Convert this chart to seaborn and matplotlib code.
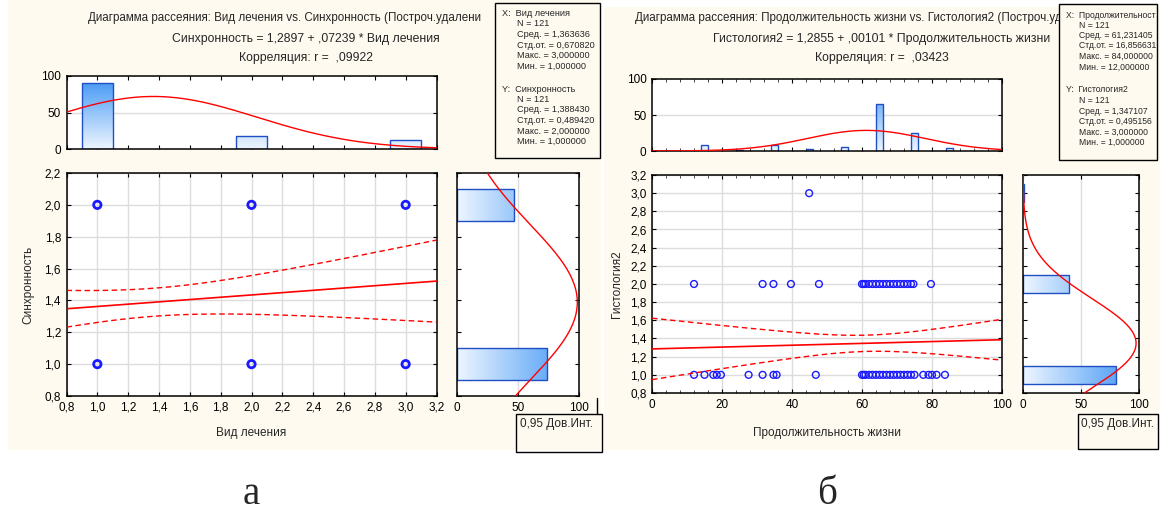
import numpy as np
import pandas as pd
import matplotlib
matplotlib.use("Agg")
import matplotlib.pyplot as plt
import seaborn as sns
from matplotlib.patches import Rectangle
from matplotlib.lines import Line2D
from matplotlib.colors import LinearSegmentedColormap
from matplotlib.ticker import FuncFormatter, MultipleLocator, FixedLocator

sns.set_theme(style="white")
plt.rcParams["font.family"] = ["Liberation Sans", "DejaVu Sans"]

# ---------------- data: panel а ----------------
a_x_cats = [1, 2, 3]            # Вид лечения
a_x_counts = [90, 18, 13]
a_y_cats = [1, 2]               # Синхронность
a_y_counts = [74, 47]
a_pts_x = [1, 1, 2, 2, 3, 3]
a_pts_y = [1, 2, 1, 2, 1, 2]
a_n = 121
a_xmean, a_xsd = 1.363636, 0.670820
a_ymean, a_ysd = 1.388430, 0.489420
a_b0, a_b1, a_r = 1.2897, 0.07239, 0.09922

# ---------------- data: panel б ----------------
b_x_bins = [5, 15, 25, 35, 45, 55, 65, 75, 85]   # Продолжительность жизни
b_x_counts = [0, 9, 2, 8, 3, 5, 65, 25, 4]
b_y_cats = [1, 2, 3]                              # Гистология2
b_y_counts = [80, 40, 1]
b_pts_y1 = [12, 15, 17.5, 18.5, 19.7, 27.6, 31.6, 34.7, 35.6, 46.8,
            60, 60.5, 61, 62, 63, 64, 65, 66, 67, 68, 69, 70, 71, 72, 73, 74, 75,
            77.5, 79, 80, 81.3, 83.7]
b_pts_y2 = [12, 31.6, 34.7, 39.7, 47.7,
            60, 60.5, 61, 62, 63, 64, 65, 66, 67, 68, 69, 70, 71, 72, 73, 74, 74.7,
            79.7]
b_pts_y3 = [44.9]
b_n = 121
b_xmean, b_xsd = 61.231405, 16.856631
b_ymean, b_ysd = 1.347107, 0.495156
b_b0, b_b1, b_r = 1.2855, 0.00101, 0.03423

# ---------------- style ----------------
W, H = 1160, 526
CREAM = "#fefaef"
EDGE = "#1f4fc4"
GRID = "#dcdcdc"
cmap = LinearSegmentedColormap.from_list("g", ["#eef6ff", "#3a92f4"])
FS = 8.5
FT = 8.8

fig = plt.figure(figsize=(W / 100, H / 100), dpi=100)
fig.patch.set_facecolor("white")


def fx(x):
    return x / W


def fy(y):
    return 1 - y / H


def add_ax(l, t, r, b):
    ax = fig.add_axes([l / W, 1 - b / H, (r - l) / W, (b - t) / H])
    ax.set_facecolor("white")
    for s in ax.spines.values():
        s.set_color("black")
        s.set_linewidth(1.1)
        s.set_visible(True)
    ax.tick_params(direction="in", top=True, right=True, bottom=True, left=True,
                   length=3, width=0.8, colors="black", labelsize=FS, pad=4)
    ax.tick_params(which="minor", direction="in", top=True, right=True,
                   bottom=True, left=True, length=2, width=0.6)
    ax.set_xlabel("")
    ax.set_ylabel("")
    return ax


def comma(dec):
    return FuncFormatter(lambda v, p: (f"{v:.{dec}f}").replace(".", ","))


def rect_fig(x0, y0, x1, y1, **kw):
    r = Rectangle((fx(x0), fy(y1)), (x1 - x0) / W, (y1 - y0) / H,
                  transform=fig.transFigure, **kw)
    fig.add_artist(r)
    return r


def gradient(ax, vertical, extent):
    grad = np.linspace(0, 1, 256)
    img_data = grad.reshape(-1, 1) if vertical else grad.reshape(1, -1)
    for p in list(ax.patches):
        im = ax.imshow(img_data, extent=extent, origin="lower", aspect="auto",
                       cmap=cmap, zorder=1.5, interpolation="bilinear")
        im.set_clip_path(p)
        p.set_facecolor("none")
        p.set_edgecolor(EDGE)
        p.set_linewidth(1.0)
        p.set_zorder(2)


def ci_lines(xs, b0, b1, n, xm, xsd, ysd, r):
    s = ysd * np.sqrt((1 - r ** 2) * (n - 1) / (n - 2))
    sxx = xsd ** 2 * (n - 1)
    yhat = b0 + b1 * xs
    h = 1.980 * s * np.sqrt(1 / n + (xs - xm) ** 2 / sxx)
    return yhat, yhat - h, yhat + h


def normal_curve(grid, n, w, m, sd):
    return n * w * np.exp(-0.5 * ((grid - m) / sd) ** 2) / (sd * np.sqrt(2 * np.pi))


# cream panels
rect_fig(8, 0, 601, 450, facecolor=CREAM, edgecolor="none", zorder=-5)
rect_fig(604, 7, 1160, 450, facecolor=CREAM, edgecolor="none", zorder=-5)


def build_panel(P):
    xl, xr = P["sx"]
    # ---- top histogram
    axt = add_ax(xl, P["tt"], xr, P["tb"])
    dft = pd.DataFrame({"c": P["xc"], "n": P["xn"]})
    sns.barplot(data=dft, x="c", y="n", native_scale=True, width=0.2,
                color="#7fb6f6", errorbar=None, ax=axt)
    gradient(axt, True, (P["xlim"][0], P["xlim"][1], 0, 100))
    g = np.linspace(P["xlim"][0], P["xlim"][1], 400)
    axt.plot(g, normal_curve(g, P["n"], P["xw"], P["xm"], P["xsd"]),
             color="red", lw=1.0, zorder=3)
    axt.set_xlim(*P["xlim"])
    axt.set_ylim(0, 100)
    axt.yaxis.set_major_locator(FixedLocator([0, 50, 100]))
    axt.yaxis.set_major_formatter(FuncFormatter(lambda v, p: f"{v:.0f}"))
    axt.xaxis.set_major_locator(MultipleLocator(P["xstep"]))
    axt.tick_params(labelbottom=False)
    axt.axhline(50, color=GRID, lw=1, zorder=0.5)
    axt.set_xlabel("")
    axt.set_ylabel("")

    # ---- scatter
    ax = add_ax(xl, P["st"], xr, P["sb"])
    ax.set_axisbelow(True)
    ax.grid(True, color=GRID, lw=1)
    sns.scatterplot(x=P["px"], y=P["py"], ax=ax, marker="o", s=P["ms"],
                    facecolor="none", edgecolor="#1a1aff", linewidth=P["mlw"],
                    zorder=3)
    xs = np.linspace(P["xlim"][0], P["xlim"][1], 200)
    yh, lo, hi = ci_lines(xs, P["b0"], P["b1"], P["n"], P["xm"], P["xsd"],
                          P["ysd"], P["r"])
    sns.lineplot(x=xs, y=yh, ax=ax, color="red", lw=1.2, estimator=None,
                 sort=False, zorder=4)
    sns.lineplot(x=xs, y=lo, ax=ax, color="red", lw=1.0, estimator=None,
                 sort=False, linestyle=(0, (4, 2.5)), zorder=4)
    sns.lineplot(x=xs, y=hi, ax=ax, color="red", lw=1.0, estimator=None,
                 sort=False, linestyle=(0, (4, 2.5)), zorder=4)
    ax.set_xlim(*P["xlim"])
    ax.set_ylim(*P["ylim"])
    ax.xaxis.set_major_locator(MultipleLocator(P["xstep"]))
    ax.yaxis.set_major_locator(MultipleLocator(0.2))
    ax.xaxis.set_major_formatter(comma(P["xdec"]))
    ax.yaxis.set_major_formatter(comma(1))
    if P.get("xminor"):
        ax.xaxis.set_minor_locator(MultipleLocator(P["xminor"]))
        axt.xaxis.set_minor_locator(MultipleLocator(P["xminor"]))
    ax.set_xlabel("")
    ax.set_ylabel("")

    # ---- right histogram
    axr = add_ax(P["rx"][0], P["st"], P["rx"][1], P["sb"])
    dfr = pd.DataFrame({"c": P["yc"], "n": P["yn"]})
    sns.barplot(data=dfr, x="n", y="c", orient="h", native_scale=True,
                width=0.2, color="#7fb6f6", errorbar=None, ax=axr)
    gradient(axr, False, (0, 100, P["ylim"][0], P["ylim"][1]))
    gy = np.linspace(P["ylim"][0], P["ylim"][1], 400)
    axr.plot(normal_curve(gy, P["n"], 1.0, P["ym"], P["ysd"]), gy,
             color="red", lw=1.0, zorder=3)
    axr.set_xlim(0, 100)
    axr.set_ylim(*P["ylim"])
    axr.xaxis.set_major_locator(FixedLocator([0, 50, 100]))
    axr.xaxis.set_major_formatter(FuncFormatter(lambda v, p: f"{v:.0f}"))
    axr.yaxis.set_major_locator(MultipleLocator(0.2))
    axr.tick_params(labelleft=False)
    axr.axvline(50, color=GRID, lw=1, zorder=0.5)
    axr.set_xlabel("")
    axr.set_ylabel("")

    # ---- titles and labels
    fig.text(fx(P["t1x"]), fy(18), P["t1"], ha="left", va="center", fontsize=8.4, zorder=1)
    fig.text(fx(P["tc"]), fy(39), P["t2"], ha="center", va="center", fontsize=FT)
    fig.text(fx(P["tc"]), fy(58), P["t3"], ha="center", va="center", fontsize=FT)
    fig.text(fx((xl + xr) / 2), fy(433), P["xlabel"], ha="center", va="center", fontsize=FS)
    fig.text(fx(P["ylx"]), fy((P["st"] + P["sb"]) / 2), P["ylabel"], ha="center",
             va="center", rotation=90, fontsize=FS)
    fig.text(fx((xl + xr) / 2), fy(494), P["letter"], ha="center", va="center",
             fontsize=28, family=["Liberation Serif", "DejaVu Serif"])

    # ---- stats box
    bx0, by0, bx1, by1 = P["box"]
    rect_fig(bx0, by0, bx1, by1, facecolor=CREAM, edgecolor="black", lw=1.0, zorder=5)
    ys = [14, 24, 34.5, 45, 55.5, 66, 89, 99.5, 110, 120.5, 131, 141.5]
    lines = P["stats"]
    for i, (txt, y) in enumerate(zip(lines, ys)):
        indent = 0 if i in (0, 6) else P["ind"]
        fig.text(fx(bx0 + 7 + indent), fy(y + by0 - 3), txt, ha="left",
                 va="center", fontsize=P["sfs"], zorder=6)


A = dict(
    sx=(66.5, 436.5), tt=76, tb=149, st=173, sb=396, rx=(457, 579),
    xc=a_x_cats, xn=a_x_counts, yc=a_y_cats, yn=a_y_counts,
    px=a_pts_x, py=a_pts_y, n=a_n, xm=a_xmean, xsd=a_xsd, ym=a_ymean, ysd=a_ysd,
    b0=a_b0, b1=a_b1, r=a_r, xw=1.0,
    xlim=(0.8, 3.2), ylim=(0.8, 2.2), xstep=0.2, xdec=1, xminor=None,
    ms=28, mlw=2.0,
    t1x=88, tc=306,
    t1="Диаграмма рассеяния: Вид лечения vs. Синхронность (Построч.удалени",
    t2="Синхронность = 1,2897 + ,07239 * Вид лечения",
    t3="Корреляция: r =  ,09922",
    xlabel="Вид лечения", ylabel="Синхронность", ylx=28, letter="а",
    box=(495, 3, 600, 158), sfs=6.6, ind=15,
    stats=["X:  Вид лечения", "N = 121", "Сред. = 1,363636", "Стд.от. = 0,670820",
           "Макс. = 3,000000", "Мин. = 1,000000",
           "Y:  Синхронность", "N = 121", "Сред. = 1,388430", "Стд.от. = 0,489420",
           "Макс. = 2,000000", "Мин. = 1,000000"],
)
B = dict(
    sx=(652, 1002), tt=79, tb=151, st=175, sb=393, rx=(1023, 1139),
    xc=b_x_bins, xn=b_x_counts, yc=b_y_cats, yn=b_y_counts,
    px=b_pts_y1 + b_pts_y2 + b_pts_y3,
    py=[1] * len(b_pts_y1) + [2] * len(b_pts_y2) + [3] * len(b_pts_y3),
    n=b_n, xm=b_xmean, xsd=b_xsd, ym=b_ymean, ysd=b_ysd,
    b0=b_b0, b1=b_b1, r=b_r, xw=10.0,
    xlim=(0, 100), ylim=(0.8, 3.2), xstep=20, xdec=0, xminor=4,
    ms=24, mlw=1.0,
    t1x=635, tc=882,
    t1="Диаграмма рассеяния: Продолжительность жизни vs. Гистология2 (Построч.уд",
    t2="Гистология2 = 1,2855 + ,00101 * Продолжительность жизни",
    t3="Корреляция: r =  ,03423",
    xlabel="Продолжительность жизни", ylabel="Гистология2", ylx=617, letter="б",
    box=(1059, 4, 1157, 160), sfs=6.2, ind=13,
    stats=["X:  Продолжительност", "N = 121", "Сред. = 61,231405",
           "Стд.от. = 16,856631", "Макс. = 84,000000", "Мин. = 12,000000",
           "Y:  Гистология2", "N = 121", "Сред. = 1,347107", "Стд.от. = 0,495156",
           "Макс. = 3,000000", "Мин. = 1,000000"],
)

build_panel(A)
build_panel(B)

# "0,95 Дов.Инт." boxes
for (x0, y0, x1, y1) in [(516, 414, 602, 452), (1078, 414, 1158, 449)]:
    rect_fig(x0, y0, x1, y1, facecolor="none", edgecolor="black", lw=1.0, zorder=6)
fig.text(fx(520), fy(424), "0,95 Дов.Инт.", ha="left", va="center", fontsize=FS)
fig.text(fx(1081), fy(424), "0,95 Дов.Инт.", ha="left", va="center", fontsize=FS)
fig.add_artist(Line2D([fx(597), fx(597)], [fy(398), fy(414)], color="black", lw=1.0,
                      transform=fig.transFigure))

fig.savefig("out.png", dpi=100, facecolor="white")
